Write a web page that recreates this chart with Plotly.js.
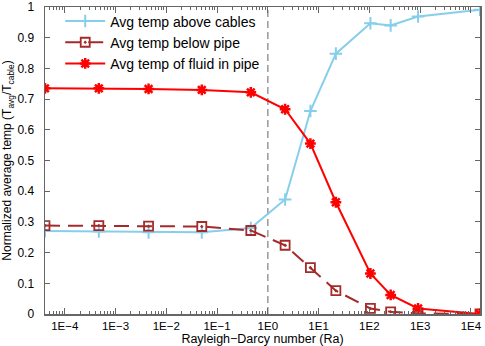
<!DOCTYPE html>
<html>
<head>
<meta charset="utf-8">
<script src="https://cdn.plot.ly/plotly-3.0.1.min.js"></script>
<style>html,body{margin:0;padding:0;background:#fff;}#chart{width:485px;height:346px;}</style>
</head>
<body>
<div id="chart"></div>
<script>
// Rayleigh-Darcy numbers (x values)
const ra = [4.07e-5, 4.68e-4, 4.47e-3, 0.050, 0.462, 2.19, 6.9, 21.9, 105, 263, 912, 15136];
// Series values
const aboveCables = [0.270, 0.269, 0.266, 0.266, 0.280, 0.373, 0.661, 0.848, 0.947, 0.940, 0.969, 0.991];
const belowPipe   = [0.288, 0.288, 0.286, 0.285, 0.272, 0.224, 0.151, 0.076, 0.018, 0.007, 0.002, 0.000];
const fluidInPipe = [0.735, 0.735, 0.733, 0.730, 0.722, 0.667, 0.555, 0.364, 0.132, 0.062, 0.018, 0.000];
const seriesNames = ['Avg temp above cables', 'Avg temp below pipe', 'Avg temp of fluid in pipe'];
// Reference line at Ra = 1
const refLineX = [1, 1];
const refLineY = [0, 1];
// Tick labels
const xTickVals = [1e-4, 1e-3, 1e-2, 1e-1, 1e0, 1e1, 1e2, 1e3, 1e4];
const xTickText = ['1E\u22124', '1E\u22123', '1E\u22122', '1E\u22121', '1E0', '1E1', '1E2', '1E3', '1E4'];
const yTickVals = [0, 0.1, 0.2, 0.3, 0.4, 0.5, 0.6, 0.7, 0.8, 0.9, 1];
const yTickText = ['0', '0.1', '0.2', '0.3', '0.4', '0.5', '0.6', '0.7', '0.8', '0.9', '1'];

const FONT = 'Liberation Sans, Arial, Helvetica, sans-serif';
const AXC = '#666666';

const traces = [
  {x: refLineX, y: refLineY, mode: 'lines', showlegend: false, hoverinfo: 'skip',
   line: {color: '#999999', width: 1.5, dash: '7px,4px'}},
  {x: ra, y: aboveCables, name: seriesNames[0], mode: 'lines+markers',
   line: {color: '#87CEEB', width: 2},
   marker: {symbol: 'cross-thin-open', size: 9, color: '#87CEEB', line: {color: '#87CEEB', width: 2}}},
  {x: ra, y: belowPipe, name: seriesNames[1], mode: 'lines+markers',
   line: {color: '#A52A2A', width: 2, dash: '15px,8px'},
   marker: {symbol: 'square-open-dot', size: 9, color: '#A52A2A', line: {color: '#A52A2A', width: 1.8}}},
  {x: ra, y: fluidInPipe, name: seriesNames[2], mode: 'lines+markers',
   line: {color: '#FF0000', width: 2},
   marker: {symbol: 'asterisk-open', size: 9, color: '#FF0000', line: {color: '#FF0000', width: 2.5}}}
];

const layout = {
  width: 485, height: 346,
  margin: {l: 45, r: 5, t: 5, b: 32, pad: 0},
  paper_bgcolor: '#fff', plot_bgcolor: '#fff',
  font: {family: FONT, size: 12, color: '#000'},
  showlegend: true,
  legend: {x: 0.035, y: 1.005, xanchor: 'left', yanchor: 'top', bgcolor: 'rgba(0,0,0,0)',
           font: {family: FONT, size: 14, color: '#000'}, tracegroupgap: 0, itemwidth: 40},
  xaxis: {
    type: 'log', range: [-4.39, 4.18], showgrid: false, zeroline: false,
    showline: true, linecolor: AXC, linewidth: 1.5, mirror: 'allticks',
    ticks: 'inside', ticklen: 6, tickwidth: 1, tickcolor: AXC,
    tickvals: xTickVals, ticktext: xTickText,
    tickfont: {family: FONT, size: 11.5, color: '#000'},
    ticklabelstandoff: 1,
    minor: {ticks: 'inside', ticklen: 3, tickcolor: AXC, tickwidth: 1, dtick: 'D1', showgrid: false},
    title: {text: 'Rayleigh\u2212Darcy number (Ra)', font: {family: FONT, size: 12.5, color: '#000'}, standoff: 3}
  },
  yaxis: {
    range: [0, 1], showgrid: false, zeroline: false,
    showline: true, linecolor: AXC, linewidth: 1.5, mirror: 'allticks',
    ticks: 'inside', ticklen: 5, tickwidth: 1, tickcolor: AXC,
    tickvals: yTickVals, ticktext: yTickText,
    tickfont: {family: FONT, size: 12, color: '#000'},
    ticklabelstandoff: 7,
    title: {text: 'Normalized average temp (T<sub>avg</sub>/T<sub>cable</sub>)', font: {family: FONT, size: 12, color: '#000'}, standoff: 4}
  }
};

Plotly.newPlot('chart', traces, layout, {displayModeBar: false, staticPlot: true});
</script>
</body>
</html>
